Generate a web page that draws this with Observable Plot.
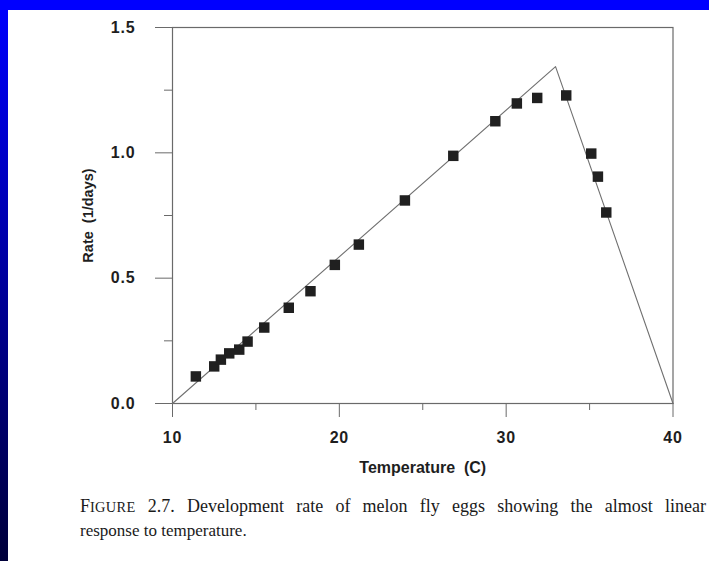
<!DOCTYPE html>
<html>
<head>
<meta charset="utf-8">
<script src="https://cdn.jsdelivr.net/npm/d3@7"></script>
<script src="https://cdn.jsdelivr.net/npm/@observablehq/plot@0.6"></script>
<style>
  html, body { margin: 0; padding: 0; }
  body {
    width: 709px; height: 561px; overflow: hidden; position: relative;
    background: linear-gradient(to bottom, #0000ff 0%, #0000b0 40%, #00003a 100%);
  }
  #topbar { position: absolute; left: 0; top: 0; width: 709px; height: 10px; background: #0000ff; }
  #paper { position: absolute; left: 8px; top: 10px; width: 701px; height: 551px; background: #fff; }
  #chart { position: absolute; left: 0; top: 0; }
  #caption {
    position: absolute; left: 80px; top: 495px; width: 626px;
    font-family: "Liberation Serif", "DejaVu Serif", serif; font-size: 18px; color: #1a1a1a;
    line-height: 23px;
  }
  #caption .l1 { text-align: justify; text-align-last: justify; white-space: nowrap; }
  #caption .l2 { font-size: 17px; }
  .sc { font-size: 0.8em; letter-spacing: 0.3px; }
</style>
</head>
<body>
<div id="topbar"></div>
<div id="paper"></div>
<div id="chart"></div>
<div id="caption">
  <div class="l1">F<span class="sc">IGURE</span> 2.7. Development rate of melon fly eggs showing the almost linear</div>
  <div class="l2">response to temperature.</div>
</div>
<script>
// Observed development rate (1/days) vs temperature (C)
const temps = [11.4, 12.5, 12.9, 13.4, 14.0, 14.5, 15.5, 16.97, 18.27, 19.73, 21.17, 23.93, 26.83, 29.35, 30.64, 31.86, 33.6, 35.1, 35.5, 36.0];
const rates = [0.108, 0.148, 0.175, 0.200, 0.215, 0.247, 0.303, 0.382, 0.448, 0.553, 0.634, 0.810, 0.988, 1.126, 1.197, 1.219, 1.229, 0.997, 0.905, 0.762];
// Fitted piecewise linear model
const modelTemps = [10, 32.96, 40];
const modelRates = [0, 1.344, 0];
// Axis ticks
const xTicks = [10, 20, 30, 40];
const xMinor = [15, 25, 35];
const yTicks = [0, 0.5, 1.0, 1.5];
const yMinor = [0.25, 0.75, 1.25];
const xLabel = "Temperature  (C)";
const yLabel = "Rate  (1/days)";

const points = temps.map((t, i) => ({t, r: rates[i]}));
const model = modelTemps.map((t, i) => ({t, r: modelRates[i]}));

const axisColor = "#6a6a6a";
const textStyle = {fontFamily: "'Liberation Sans', Arial, sans-serif", fontWeight: "bold", fill: "#1e1e1e"};

const chart = Plot.plot({
  width: 709,
  height: 480,
  marginLeft: 172,
  marginRight: 36.5,
  marginTop: 27,
  marginBottom: 77,
  style: {background: "transparent", overflow: "visible"},
  x: {domain: [10, 40]},
  y: {domain: [0, 1.5]},
  marks: [
    Plot.frame({stroke: axisColor, strokeWidth: 1.2}),
    Plot.axisY({ticks: yTicks, tickSize: 17, tickPadding: 20, tickFormat: d3.format(".1f"),
      stroke: axisColor, ...textStyle, label: null}),
    Plot.axisY({ticks: yMinor, tickSize: 8, tickFormat: () => "", stroke: axisColor, label: null}),
    Plot.axisX({ticks: xTicks, tickSize: 14, tickPadding: 14, tickFormat: d3.format("d"),
      stroke: axisColor, ...textStyle, label: null}),
    Plot.axisX({ticks: xMinor, tickSize: 7, tickFormat: () => "", stroke: axisColor, label: null}),
    Plot.line(model, {x: "t", y: "r", stroke: "#707070", strokeWidth: 1.1}),
    Plot.dot(points, {x: "t", y: "r", symbol: "square", r: 5.9, fill: "#202020", stroke: "none"}),
    Plot.text([xLabel], {frameAnchor: "bottom", dy: 64, textAnchor: "middle", lineAnchor: "middle",
      fontSize: 16, letterSpacing: "2.1px", ...textStyle}),
    Plot.text([yLabel], {frameAnchor: "left", dx: -84, rotate: -90, textAnchor: "middle", lineAnchor: "middle",
      fontSize: 14.5, letterSpacing: "1.4px", ...textStyle})
  ]
});
document.getElementById("chart").appendChild(chart);
// enlarge tick labels
chart.querySelectorAll("text").forEach(t => {
  if (/^\d+(\.\d)?$/.test(t.textContent.trim())) {
    t.style.fontSize = "16px";
    t.style.letterSpacing = "0.8px";
  }
});
</script>
</body>
</html>
